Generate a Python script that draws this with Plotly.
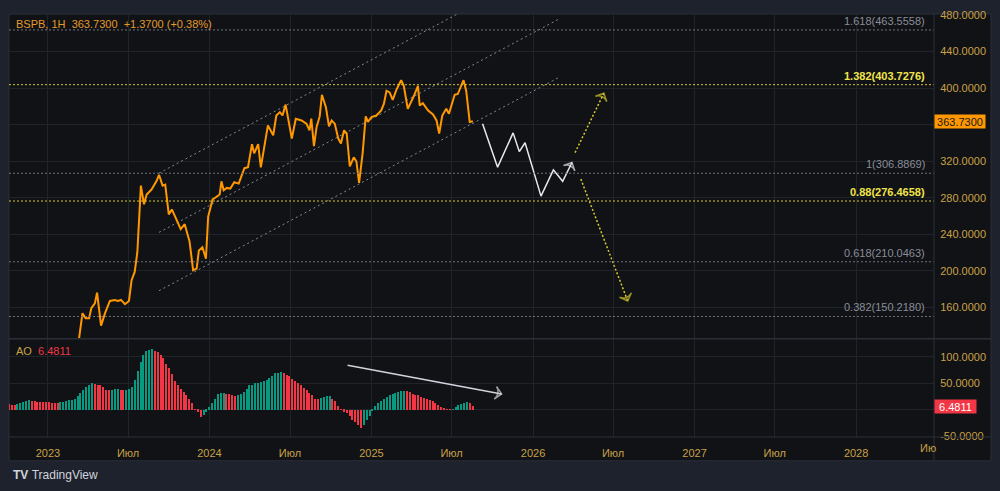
import plotly.graph_objects as go
import pandas as pd

# ---------------- data ----------------
price_dates = ["2023-03-10","2023-03-20","2023-03-27","2023-04-04","2023-04-09","2023-04-17","2023-04-22",
    "2023-05-01","2023-05-10","2023-05-21","2023-06-01","2023-06-08","2023-06-15","2023-06-24","2023-07-03",
    "2023-07-09","2023-07-16","2023-07-22","2023-07-30","2023-08-06","2023-08-12","2023-08-23","2023-09-03",
    "2023-09-09","2023-09-17","2023-09-23","2023-10-01","2023-10-08","2023-10-28","2023-11-06","2023-11-17",
    "2023-11-25","2023-12-03","2023-12-08","2023-12-16","2023-12-24","2023-12-29","2024-01-08","2024-01-17",
    "2024-01-24","2024-01-28","2024-02-02","2024-02-09","2024-02-17","2024-02-26","2024-03-07","2024-03-13",
    "2024-03-20","2024-03-28","2024-04-06","2024-04-11","2024-04-20","2024-04-26","2024-05-03","2024-05-12",
    "2024-05-24","2024-05-31","2024-06-08","2024-06-14","2024-06-21","2024-06-26","2024-07-05","2024-07-14",
    "2024-07-27","2024-08-07","2024-08-14","2024-08-18","2024-08-24","2024-08-30","2024-09-06","2024-09-11",
    "2024-09-20","2024-09-27","2024-10-03","2024-10-10","2024-10-18","2024-10-24","2024-10-31","2024-11-06",
    "2024-11-13","2024-11-22","2024-11-28","2024-12-04","2024-12-12","2024-12-19","2024-12-24","2025-01-01",
    "2025-01-12","2025-01-23","2025-01-29","2025-02-04","2025-02-11","2025-02-18","2025-02-26","2025-03-09",
    "2025-03-15","2025-03-24","2025-04-01","2025-04-07","2025-04-16","2025-04-20","2025-04-27","2025-05-09",
    "2025-05-20","2025-05-28","2025-06-03","2025-06-10","2025-06-19","2025-06-25","2025-07-08","2025-07-15",
    "2025-07-28","2025-08-03","2025-08-11","2025-08-18"]
price_values = [117.8,153.8,148.4,148.4,159.2,164.6,176.2,
    140.2,153.8,167.2,168.3,167.2,168.3,163.6,167.2,
    189.9,198.9,220.5,293.3,272.9,283.6,289.0,298.0,
    305.2,293.3,294.4,261.9,267.3,245.7,251.1,232.1,
    200.8,202.5,222.4,225.9,213.5,259.5,278.2,281.1,
    283.6,298.0,288.3,290.8,290.1,297.0,295.5,303.5,
    312.4,313.5,338.7,328.6,338.7,313.2,335.1,359.2,
    348.4,370.0,373.7,370.0,381.9,368.3,344.8,366.5,
    364.6,361.1,353.8,366.5,336.6,357.5,369.0,392.7,
    379.1,358.1,364.6,361.1,344.8,339.4,353.8,350.3,
    314.3,324.3,319.7,296.2,328.6,369.0,363.0,368.3,
    370.0,375.5,382.7,397.1,395.3,387.0,397.8,408.6,
    402.4,377.3,384.5,391.6,402.4,380.9,383.4,375.5,
    371.1,364.6,350.3,370.0,377.3,371.9,392.7,393.5,
    408.6,397.1,362.9,363.73]

ao_start = "2022-10-05"
ao_end = "2025-08-18"
ao_values = [10.5, 8.6, 8.4, 10.5, 13.0, 14.8, 16.7, 17.9, 16.7, 16.0, 15.4, 14.8, 14.6, 14.4, 14.2, 13.0,
    12.8, 12.6, 14.2, 14.8, 16.0, 17.9, 19.1, 21.0, 25.3, 31.5, 37.7, 42.6, 45.7, 49.5, 48.5, 47.5, 45.7,
    42.6, 37.7, 37.2, 37.8, 38.9, 39.5, 37.7, 36.4, 37.0, 39.5, 42.6, 56.0, 73.5, 90.7, 104.0, 111.7, 113.6,
    115.4, 111.7, 109.3, 104.3, 98.0, 87.0, 78.4, 67.3, 55.0, 45.7, 39.5, 33.3, 27.2, 19.8, 11.7, 0.6, -3.7,
    -13.0, -9.9, -3.7, 4.3, 13.0, 21.0, 29.0, 31.5, 32.0, 30.2, 29.0, 27.2, 25.3, 27.2, 30.2, 33.3, 39.5,
    45.7, 47.5, 50.0, 51.2, 51.9, 53.7, 56.2, 59.9, 64.2, 69.1, 69.4, 70.4, 69.5, 66.0, 63.0, 57.4, 55.0,
    50.0, 45.7, 41.4, 37.7, 32.1, 27.2, 21.0, 20.4, 22.8, 24.1, 25.3, 25.9, 21.0, 16.7, 6.8, 1.2, -3.7,
    -6.8, -11.7, -20.4, -24.1, -28.4, -34.6, -28.4, -20.4, -11.7, -2.5, 6.8, 13.0, 16.7, 21.0, 24.1, 27.2,
    29.0, 31.5, 33.3, 34.6, 35.2, 34.6, 32.7, 30.2, 28.4, 27.2, 24.1, 22.2, 19.8, 17.9, 16.7, 13.0, 9.3,
    4.3, 1.9, 1.2, 0.6, 1.2, 4.3, 8.6, 10.5, 13.0, 15.4, 13.0, 6.4811]

fib_ratios = ["1.618", "1.382", "1", "0.88", "0.618", "0.382"]
fib_prices = [463.5558, 403.7276, 306.8869, 276.4658, 210.0463, 150.2180]
fib_highlight = [False, True, False, True, False, False]

channel_dates = ["2023-09-09", "2026-03-03"]
channel_lower = [178.4, 412.3]
channel_middle = [242.2, 476.1]
channel_upper = [307.0, 540.9]

forecast_dates = ["2025-09-09","2025-10-13","2025-11-17","2025-12-01","2025-12-14",
                  "2026-01-19","2026-02-16","2026-03-09","2026-03-30"]
forecast_prices = [361.1, 313.5, 351.0, 330.5, 340.2, 281.8, 310.6, 298.0, 318.6]
up_arrow_dates = ["2026-04-06", "2026-06-10"]
up_arrow_prices = [329.4, 394.3]
down_arrow_dates = ["2026-04-19", "2026-08-03"]
down_arrow_prices = [300.5, 167.2]
ao_arrow_dates = ["2024-11-08", "2025-10-22"]
ao_arrow_values = [84.4, 30.0]

price_ticks = [160, 200, 240, 280, 320, 360, 400, 440, 480]
price_tick_hidden = [360]          # covered by the last-price label
ao_ticks = [-50, 0, 50, 100]
ao_tick_hidden = [0]               # covered by the last-AO label
time_ticks = ["2023-01-01","2023-07-01","2024-01-01","2024-07-01","2025-01-01","2025-07-01",
              "2026-01-01","2026-07-01","2027-01-01","2027-07-01","2028-01-01"]
time_labels = ["2023","Июл","2024","Июл","2025","Июл","2026","Июл","2027","Июл","2028"]

last_price = 363.73
last_ao = 6.4811

# ---------------- style ----------------
FONT = "Liberation Sans"
BG = "#101216"
FRAME = "#1e222d"
GRID = "#1f232a"
SEP = "#2a2e39"
AXIS_TXT = "#c9a146"
ORANGE = "#ff9800"
GREEN = "#089981"
RED = "#f23645"
YEL = "#d6c72f"

W, H = 1000, 491
ML, MR, MT, MB = 9, 66, 9, 54
PW = W - ML - MR
PH = H - MT - MB

def px_x(p):
    return (p - ML) / PW

def px_y(p):
    return (H - MB - p) / PH

fig = go.Figure()

# channel lines
for vals in (channel_upper, channel_middle, channel_lower):
    fig.add_trace(go.Scatter(x=channel_dates, y=vals, mode="lines",
                             line=dict(color="#868993", width=1, dash="2px,3px"),
                             hoverinfo="skip", xaxis="x", yaxis="y"))

# price
fig.add_trace(go.Scatter(x=price_dates, y=price_values, mode="lines",
                         line=dict(color=ORANGE, width=2), xaxis="x", yaxis="y"))

# forecast path
def arrow_sizes(n, s):
    return [0] * (n - 1) + [s]

fig.add_trace(go.Scatter(x=forecast_dates, y=forecast_prices, mode="lines+markers",
                         line=dict(color="#e6e8ee", width=1.5),
                         marker=dict(symbol="arrow-wide-open", size=arrow_sizes(len(forecast_dates), 9),
                                     angleref="previous", color="#e6e8ee", line=dict(width=1.5, color="#e6e8ee")),
                         xaxis="x", yaxis="y"))
for dd, pp in ((up_arrow_dates, up_arrow_prices), (down_arrow_dates, down_arrow_prices)):
    fig.add_trace(go.Scatter(x=dd, y=pp, mode="lines+markers",
                             line=dict(color=YEL, width=1.5, dash="2px,2px"),
                             marker=dict(symbol="arrow-wide-open", size=arrow_sizes(len(dd), 9),
                                         angleref="previous", color=YEL, line=dict(width=1.5, color=YEL)),
                             xaxis="x", yaxis="y"))

# AO histogram
ao_dates = pd.date_range(ao_start, ao_end, periods=len(ao_values))
ao_colors = [RED] + [GREEN if ao_values[i] > ao_values[i - 1] else RED for i in range(1, len(ao_values))]
step_ms = (ao_dates[1] - ao_dates[0]).total_seconds() * 1000
fig.add_trace(go.Bar(x=ao_dates, y=ao_values, marker=dict(color=ao_colors, line=dict(width=0)),
                     width=step_ms * 0.45, xaxis="x", yaxis="y2"))
fig.add_trace(go.Scatter(x=ao_arrow_dates, y=ao_arrow_values, mode="lines+markers",
                         line=dict(color="#d1d4dc", width=1.5),
                         marker=dict(symbol="arrow-wide-open", size=[0, 9], angleref="previous",
                                     color="#d1d4dc", line=dict(width=1.5, color="#d1d4dc")),
                         xaxis="x", yaxis="y2"))

shapes = []
# inner chart panel
shapes.append(dict(type="rect", xref="paper", yref="paper", x0=0, x1=px_x(991), y0=px_y(461), y1=1,
                   fillcolor=BG, line=dict(color=SEP, width=1), layer="below"))
# fib lines
for p, hl in zip(fib_prices, fib_highlight):
    shapes.append(dict(type="line", xref="paper", yref="y", x0=0, x1=1, y0=p, y1=p,
                       line=dict(color=YEL if hl else "#70737d", width=1, dash="2px,2px")))
# separators
shapes.append(dict(type="line", xref="paper", yref="paper", x0=1, x1=1, y0=px_y(461), y1=1,
                   line=dict(color=SEP, width=1)))
shapes.append(dict(type="line", xref="paper", yref="paper", x0=0, x1=px_x(991), y0=px_y(337.5), y1=px_y(337.5),
                   line=dict(color=SEP, width=1.5)))
shapes.append(dict(type="line", xref="paper", yref="paper", x0=0, x1=px_x(991), y0=0, y1=0,
                   line=dict(color=SEP, width=1)))

annotations = []
for r, p, hl in zip(fib_ratios, fib_prices, fib_highlight):
    txt = f"{r}({p:.4f})"
    if hl:
        txt = f"<b>{txt}</b>"
    annotations.append(dict(x=px_x(927), xref="paper", y=p, yref="y", text=txt, showarrow=False,
                            xanchor="right", yanchor="bottom", yshift=1,
                            font=dict(family=FONT, size=11, color="#f2e54a" if hl else "#8a8d96")))

annotations.append(dict(x=px_x(14), xref="paper", y=px_y(19), yref="paper",
                        text="BSPB, 1H\u00a0\u00a0363.7300\u00a0\u00a0+1.3700 (+0.38%)",
                        showarrow=False, xanchor="left", yanchor="middle",
                        font=dict(family=FONT, size=11, color="#e49a2c")))
annotations.append(dict(x=px_x(14), xref="paper", y=px_y(350), yref="paper",
                        text=f"AO\u00a0\u00a0<span style='color:{RED}'>{last_ao:.4f}</span>",
                        showarrow=False, xanchor="left", yanchor="middle",
                        font=dict(family=FONT, size=11, color=AXIS_TXT)))
annotations.append(dict(x=1, xref="paper", y=last_price, yref="y", text=f"{last_price:.4f}",
                        showarrow=False, xanchor="left", yanchor="middle", bgcolor=ORANGE,
                        width=50, height=13, borderpad=0, align="center",
                        font=dict(family=FONT, size=11, color="#1a1a1a")))
annotations.append(dict(x=1, xref="paper", y=last_ao, yref="y2", text=f"{last_ao:.4f}",
                        showarrow=False, xanchor="left", yanchor="middle", bgcolor=RED,
                        width=41, height=13, borderpad=0, align="center",
                        font=dict(family=FONT, size=11, color="#ffffff")))
annotations.append(dict(x=px_x(928), xref="paper", y=px_y(448), yref="paper", text="Ию",
                        showarrow=False, xanchor="center", yanchor="middle",
                        font=dict(family=FONT, size=11, color=AXIS_TXT)))
annotations.append(dict(x=px_x(11), xref="paper", y=px_y(475), yref="paper",
                        text="<b>TV</b>\u00a0TradingView", showarrow=False, xanchor="left", yanchor="middle",
                        font=dict(family=FONT, size=12, color="#d1d4dc")))

fig.update_layout(
    width=W, height=H,
    margin=dict(l=ML, r=MR, t=MT, b=MB, pad=0),
    paper_bgcolor=FRAME, plot_bgcolor=BG,
    showlegend=False, bargap=0,
    font=dict(family=FONT, size=11, color=AXIS_TXT),
    xaxis=dict(domain=[0, 1], anchor="y2", type="date", range=["2022-10-05", "2028-06-25"],
               tickvals=time_ticks, ticktext=time_labels, showgrid=True, gridcolor=GRID, gridwidth=1,
               zeroline=False, showline=False, ticks="outside", ticklen=6, tickcolor="rgba(0,0,0,0)",
               tickfont=dict(family=FONT, size=11, color=AXIS_TXT)),
    yaxis=dict(domain=[px_y(337), 1], anchor="x", side="right", range=[126.5, 481],
               tickvals=price_ticks,
               ticktext=["" if v in price_tick_hidden else f"{v:.4f}" for v in price_ticks],
               showgrid=True, gridcolor=GRID, zeroline=False, showline=False,
               ticks="outside", ticklen=3, tickcolor="rgba(0,0,0,0)",
               tickfont=dict(family=FONT, size=11, color=AXIS_TXT)),
    yaxis2=dict(domain=[0, px_y(338)], anchor="x", side="right", range=[-51.4, 133.6],
                tickvals=ao_ticks,
                ticktext=["" if v in ao_tick_hidden else f"{v:.4f}" for v in ao_ticks],
                showgrid=True, gridcolor=GRID, zeroline=False, showline=False,
                ticks="outside", ticklen=3, tickcolor="rgba(0,0,0,0)",
                tickfont=dict(family=FONT, size=11, color=AXIS_TXT)),
    shapes=shapes, annotations=annotations,
)

fig.write_html("out.html")
